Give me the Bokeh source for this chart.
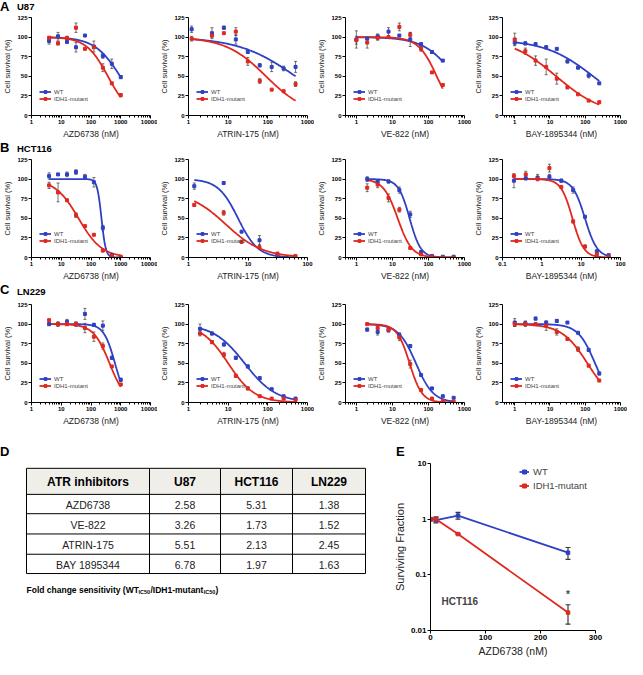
import numpy as np
from bokeh.plotting import figure
from bokeh.models import (Range1d, FixedTicker, PrintfTickFormatter, Whisker, Div,
                          ColumnDataSource, Legend, LegendItem, Label, TeeHead)
from bokeh.layouts import row, column
from bokeh.embed import file_html
from bokeh.resources import INLINE
from bokeh.core.properties import value

FONT = "Liberation Sans"
BLUE = "#2e40c4"
RED = "#e0281f"
ERR = "#3a3a3a"
TOTAL_W = 627

# ---------------- data ----------------
# fit = [top, IC50 (nM), Hill slope]   (4-parameter dose-response fits, bottom = 0)
azd_dose = [3.9, 7.8, 15.6, 31.25, 62.5, 125, 250, 500, 1000]

u87_azd_wt = [95, 101, 94, 87, 102, 88, 76, 66, 49]
u87_azd_wt_err = [4, 5, 2, 6, 0, 7, 3, 6, 2]
u87_azd_mut = [99, 92, 99, 112, 85, 87, 61, 41, 26]
u87_azd_mut_err = [2, 2, 2, 6, 0, 0, 5, 0, 2]
u87_azd_wt_fit = [100, 960, 1.0]
u87_azd_mut_fit = [100, 370, 1.2]

u87_atrin_dose = [1.2, 3.9, 7.8, 15.6, 31.25, 62.5, 125, 250, 500]
u87_atrin_wt = [110, 105, 112, 97, 81, 64, 62, 60, 62]
u87_atrin_wt_err = [4, 7, 2, 6, 0, 2, 6, 3, 7]
u87_atrin_mut = [98, 102, 105, 107, 69, 44, 33, 31, 40]
u87_atrin_mut_err = [3, 2, 0, 5, 5, 3, 0, 0, 3]
u87_atrin_wt_fit = [100, 500, 0.6]
u87_atrin_mut_fit = [100, 90, 0.85]

u87_ve_dose = [1, 2, 3.9, 7.8, 15.6, 31.25, 62.5, 125, 250]
u87_ve_wt = [97, 98, 101, 107, 102, 97, 91, 81, 70]
u87_ve_wt_err = [11, 0, 3, 5, 0, 9, 2, 2, 0]
u87_ve_mut = [96, 93, 99, 100, 113, 103, 85, 55, 39]
u87_ve_mut_err = [5, 7, 3, 0, 5, 3, 3, 0, 0]
u87_ve_wt_fit = [100, 550, 1.0]
u87_ve_mut_fit = [100, 170, 1.7]

bay_dose = [1, 2, 3.9, 7.8, 15.6, 31.25, 62.5, 125, 250]
u87_bay_wt = [93, 92, 91, 87, 85, 69, 61, 51, 41]
u87_bay_wt_err = [3, 2, 2, 2, 0, 2, 1, 3, 1]
u87_bay_mut = [97, 82, 70, 62, 47, 36, 27, 19, 17]
u87_bay_mut_err = [8, 4, 6, 10, 7, 2, 0, 0, 0]
u87_bay_wt_fit = [97, 185, 0.62]
u87_bay_mut_fit = [100, 15, 0.65]

hct_azd_wt = [104, 106, 106, 109, 103, 96, 38, 3, 0]
hct_azd_wt_err = [4, 0, 3, 3, 3, 6, 3, 0, 0]
hct_azd_mut = [92, 83, 73, 54, 40, 29, 9, 2, 1]
hct_azd_mut_err = [4, 12, 1, 3, 0, 0, 2, 0, 0]
hct_azd_wt_fit = [100, 225, 6.0]
hct_azd_mut_fit = [100, 38, 1.1]

hct_atrin_dose = [1.25, 3.9, 7.8, 15.6, 31.25, 62.5]
hct_atrin_wt = [91, 95, 33, 22, 3, 1]
hct_atrin_wt_err = [4, 0, 0, 6, 0, 0]
hct_atrin_mut = [67, 57, 20, 13, 5, 2]
hct_atrin_mut_err = [2, 3, 2, 3, 0, 0]
hct_atrin_wt_fit = [100, 6.8, 2.6]
hct_atrin_mut_fit = [85, 4.2, 1.4]

ve_dose = [2, 3.9, 7.8, 15.6, 31.25, 62.5, 125, 250, 500]
hct_ve_wt = [100, 97, 97, 86, 55, 7, 2, 1, 1]
hct_ve_wt_err = [3, 0, 2, 4, 4, 0, 0, 0, 0]
hct_ve_mut = [89, 93, 76, 61, 12, 4, 1, 0, 0]
hct_ve_mut_err = [5, 4, 5, 3, 0, 0, 0, 0, 0]
hct_ve_wt_fit = [100, 30, 2.8]
hct_ve_mut_fit = [100, 14, 2.2]

hct_bay_dose = [0.195, 0.39, 0.78, 1.56, 3.125, 6.25, 12.5, 25, 50]
hct_bay_wt = [98, 101, 102, 103, 98, 86, 52, 8, 3]
hct_bay_wt_err = [9, 2, 4, 3, 2, 4, 0, 0, 0]
hct_bay_mut = [104, 106, 100, 114, 90, 46, 14, 4, 1]
hct_bay_mut_err = [0, 4, 0, 5, 0, 2, 2, 0, 0]
hct_bay_wt_fit = [100, 12.5, 2.8]
hct_bay_mut_fit = [100, 6.0, 3.0]

ln_azd_wt = [100, 100, 103, 100, 113, 99, 98, 57, 29]
ln_azd_wt_err = [2, 3, 3, 2, 7, 2, 6, 2, 2]
ln_azd_mut = [105, 100, 100, 100, 95, 84, 72, 46, 23]
ln_azd_mut_err = [0, 2, 2, 3, 6, 6, 4, 0, 0]
ln_azd_wt_fit = [100, 640, 2.3]
ln_azd_mut_fit = [100, 420, 1.6]

ln_atrin_dose = [1.95, 3.9, 7.8, 15.6, 31.25, 62.5, 125, 250, 500]
ln_atrin_wt = [94, 88, 74, 57, 46, 31, 17, 8, 5]
ln_atrin_wt_err = [6, 2, 2, 2, 2, 2, 0, 0, 0]
ln_atrin_mut = [88, 77, 61, 34, 18, 8, 5, 5, 3]
ln_atrin_mut_err = [3, 2, 3, 2, 2, 0, 0, 0, 0]
ln_atrin_wt_fit = [100, 26, 1.1]
ln_atrin_mut_fit = [100, 10, 1.3]

ln_ve_wt = [93, 90, 92, 86, 72, 35, 18, 8, 6]
ln_ve_wt_err = [2, 4, 0, 3, 2, 0, 0, 0, 0]
ln_ve_mut = [100, 95, 93, 83, 49, 16, 5, 2, 1]
ln_ve_mut_err = [0, 0, 3, 4, 5, 0, 0, 0, 0]
ln_ve_wt_fit = [100, 45, 1.8]
ln_ve_mut_fit = [100, 30, 2.5]

ln_bay_wt = [102, 101, 107, 102, 104, 102, 89, 67, 37]
ln_bay_wt_err = [5, 3, 2, 0, 2, 0, 0, 2, 2]
ln_bay_mut = [100, 100, 100, 98, 90, 81, 68, 47, 28]
ln_bay_mut_err = [3, 3, 2, 6, 4, 0, 3, 0, 0]
ln_bay_wt_fit = [100, 190, 1.8]
ln_bay_mut_fit = [100, 115, 1.2]

# panel D table
table_header = ["ATR inhibitors", "U87", "HCT116", "LN229"]
table_drugs = ["AZD6738", "VE-822", "ATRIN-175", "BAY 1895344"]
table_u87 = ["2.58", "3.26", "5.51", "6.78"]
table_hct116 = ["5.31", "1.73", "2.13", "1.97"]
table_ln229 = ["1.38", "1.52", "2.45", "1.63"]

# panel E clonogenic survival
clono_dose = [0, 10, 50, 250]
clono_wt = [1.0, 0.96, 1.16, 0.25]
clono_wt_err = [0.07, 0.1, 0.16, 0.06]
clono_mut = [1.0, 1.0, 0.54, 0.021]
clono_mut_err = [0.05, 0.1, 0.01, 0.008]

series_labels = ["WT", "IDH1-mutant"]
y_ticks = [0, 25, 50, 75, 100, 125]


# ---------------- helpers ----------------
def log_ticks(lo, hi):
    majors = [10.0 ** k for k in range(-3, 6) if lo * 0.999 <= 10.0 ** k <= hi * 1.001]
    minors = [m * 10.0 ** k for k in range(-3, 6) for m in range(2, 10)
              if lo <= m * 10.0 ** k <= hi]
    return majors, minors


def fit_curve(fit, lo, hi):
    top, ic50, hill = fit
    xs = np.logspace(np.log10(lo), np.log10(hi), 150)
    ys = top / (1.0 + (xs / ic50) ** hill)
    return xs, ys


def add_err(p, x, m, e, size=3, width=0.7):
    keep = [i for i, s in enumerate(e) if s > 0]
    src = ColumnDataSource(dict(x=[x[i] for i in keep],
                                lo=[m[i] - e[i] for i in keep],
                                hi=[m[i] + e[i] for i in keep]))
    w = Whisker(source=src, base="x", lower="lo", upper="hi", dimension="height",
                line_color=ERR, line_width=width,
                upper_head=TeeHead(size=size, line_color=ERR, line_width=width),
                lower_head=TeeHead(size=size, line_color=ERR, line_width=width))
    p.add_layout(w)


def style_axis(ax, tick_fs, label_fs):
    ax.axis_line_color = "black"
    ax.axis_line_width = 1
    ax.major_tick_line_color = "black"
    ax.minor_tick_line_color = "black"
    ax.major_tick_in = 0
    ax.major_tick_out = 3
    ax.minor_tick_in = 0
    ax.minor_tick_out = 2
    ax.major_label_text_font = FONT
    ax.major_label_text_font_size = tick_fs
    ax.major_label_text_font_style = "bold"
    ax.major_label_text_color = "black"
    ax.major_label_standoff = 1
    ax.axis_label_text_font = FONT
    ax.axis_label_text_font_size = label_fs
    ax.axis_label_text_font_style = "normal"
    ax.axis_label_text_color = "#222222"
    ax.axis_label_standoff = 2


def header(h, items):
    spans = "".join(
        f'<span style="position:absolute;left:{x}px;top:{t}px;white-space:nowrap;'
        f'font-family:\'{FONT}\';font-weight:bold;font-size:{fs}px;line-height:{fs}px;'
        f'color:black">{txt}</span>'
        for x, t, txt, fs in items)
    html = (f'<div style="position:relative;width:{TOTAL_W}px;height:{h}px;'
            f'overflow:visible">{spans}</div>')
    return Div(text=html, width=TOTAL_W, height=h, margin=0)


L_B, R_B, T_B, B_B = 25, 7, 4, 24


def dose_panel(w, h, dose, wt, wt_err, mut, mut_err, wt_fit, mut_fit, xr, xlabel):
    p = figure(width=w, height=h, x_axis_type="log", x_range=Range1d(*xr),
               y_range=Range1d(0, 125), output_backend="svg", toolbar_location=None,
               title=None, min_border_left=L_B, min_border_right=R_B, min_border_top=T_B,
               min_border_bottom=B_B)
    p.outline_line_color = None
    p.xgrid.visible = False
    p.ygrid.visible = False
    majors, minors = log_ticks(*xr)
    p.xaxis.ticker = FixedTicker(ticks=majors, minor_ticks=minors)
    p.xaxis.formatter = PrintfTickFormatter(format="%g")
    p.yaxis.ticker = FixedTicker(ticks=y_ticks)
    style_axis(p.xaxis[0], "6px", "8.5px")
    style_axis(p.yaxis[0], "6px", "7.5px")
    p.yaxis.minor_tick_line_color = None
    p.xaxis.axis_label = xlabel
    p.yaxis.axis_label = "Cell survival (%)"

    add_err(p, dose, wt, wt_err)
    add_err(p, dose, mut, mut_err)
    lo, hi = min(dose), max(dose)
    xs, ys = fit_curve(wt_fit, lo, hi)
    l_wt = p.line(xs, ys, line_color=BLUE, line_width=1.8)
    xs, ys = fit_curve(mut_fit, lo, hi)
    l_mut = p.line(xs, ys, line_color=RED, line_width=1.8)
    s_wt = p.scatter(dose, wt, marker="square", size=3, color=BLUE)
    s_mut = p.scatter(dose, mut, marker="square", size=3, color=RED)

    leg = Legend(items=[LegendItem(label=series_labels[0], renderers=[l_wt, s_wt]),
                        LegendItem(label=series_labels[1], renderers=[l_mut, s_mut])],
                 location=(8, 13), orientation="vertical",
                 label_text_font=FONT, label_text_font_size="6px",
                 label_height=7, glyph_height=7, glyph_width=12, spacing=0,
                 padding=0, margin=0, label_standoff=3,
                 background_fill_alpha=0, border_line_color=None)
    p.add_layout(leg)
    return p


W = [157, 157, 157, 156]
PH = 128
X_AZD, X_ATR, X_VE, X_BAY = (1, 10000), (1, 1000), (0.5, 1000), (0.45, 1000)

hdrA = header(13, [(0, 0, "A", 13), (17, 2, "U87", 9.5)])
rowA = row(
    dose_panel(W[0], PH, azd_dose, u87_azd_wt, u87_azd_wt_err, u87_azd_mut, u87_azd_mut_err,
               u87_azd_wt_fit, u87_azd_mut_fit, X_AZD, "AZD6738 (nM)"),
    dose_panel(W[1], PH, u87_atrin_dose, u87_atrin_wt, u87_atrin_wt_err, u87_atrin_mut,
               u87_atrin_mut_err, u87_atrin_wt_fit, u87_atrin_mut_fit, X_ATR, "ATRIN-175 (nM)"),
    dose_panel(W[2], PH, u87_ve_dose, u87_ve_wt, u87_ve_wt_err, u87_ve_mut, u87_ve_mut_err,
               u87_ve_wt_fit, u87_ve_mut_fit, X_VE, "VE-822 (nM)"),
    dose_panel(W[3], PH, bay_dose, u87_bay_wt, u87_bay_wt_err, u87_bay_mut, u87_bay_mut_err,
               u87_bay_wt_fit, u87_bay_mut_fit, X_BAY, "BAY-1895344 (nM)"),
)

hdrB = header(14, [(0, 0, "B", 13), (17, 3, "HCT116", 9.5)])
rowB = row(
    dose_panel(W[0], PH, azd_dose, hct_azd_wt, hct_azd_wt_err, hct_azd_mut, hct_azd_mut_err,
               hct_azd_wt_fit, hct_azd_mut_fit, X_AZD, "AZD6738 (nM)"),
    dose_panel(W[1], PH, hct_atrin_dose, hct_atrin_wt, hct_atrin_wt_err, hct_atrin_mut,
               hct_atrin_mut_err, hct_atrin_wt_fit, hct_atrin_mut_fit, (1, 100), "ATRIN-175 (nM)"),
    dose_panel(W[2], PH, ve_dose, hct_ve_wt, hct_ve_wt_err, hct_ve_mut, hct_ve_mut_err,
               hct_ve_wt_fit, hct_ve_mut_fit, X_VE, "VE-822 (nM)"),
    dose_panel(W[3], PH, hct_bay_dose, hct_bay_wt, hct_bay_wt_err, hct_bay_mut,
               hct_bay_mut_err, hct_bay_wt_fit, hct_bay_mut_fit, (0.1, 100), "BAY-1895344 (nM)"),
)

hdrC = header(17, [(0, 0, "C", 13), (17, 3.5, "LN229", 9.5)])
rowC = row(
    dose_panel(W[0], PH, azd_dose, ln_azd_wt, ln_azd_wt_err, ln_azd_mut, ln_azd_mut_err,
               ln_azd_wt_fit, ln_azd_mut_fit, X_AZD, "AZD6738 (nM)"),
    dose_panel(W[1], PH, ln_atrin_dose, ln_atrin_wt, ln_atrin_wt_err, ln_atrin_mut,
               ln_atrin_mut_err, ln_atrin_wt_fit, ln_atrin_mut_fit, X_ATR, "ATRIN-175 (nM)"),
    dose_panel(W[2], PH, ve_dose, ln_ve_wt, ln_ve_wt_err, ln_ve_mut, ln_ve_mut_err,
               ln_ve_wt_fit, ln_ve_mut_fit, X_VE, "VE-822 (nM)"),
    dose_panel(W[3], PH, bay_dose, ln_bay_wt, ln_bay_wt_err, ln_bay_mut, ln_bay_mut_err,
               ln_bay_wt_fit, ln_bay_mut_fit, X_BAY, "BAY-1895344 (nM)"),
)

hdrDE = header(31, [(0, 17, "D", 13), (396, 17, "E", 13)])

# ---------------- panel E (borders shared with D) ----------------
EW, EH, ET, EB, EL, ER = 237, 200, 4, 23, 30, 32

# ---------------- panel D: table ----------------
DW, DH = 390, 200
d = figure(width=DW, height=DH, x_range=Range1d(0, DW), y_range=Range1d(DH - EB, ET),
           x_axis_type=None, y_axis_type=None, title=None, min_border_left=0,
           min_border_right=0, min_border_top=ET, min_border_bottom=EB,
           output_backend="svg", toolbar_location=None)
d.outline_line_color = None
col_x = [26, 149, 220, 292, 365]
row_y = [9, 36, 56, 77, 98, 118]
d.quad(left=[col_x[0]], right=[col_x[-1]], top=[row_y[0]], bottom=[row_y[1]],
       fill_color="#efeee8", line_color=None)
d.segment(x0=[col_x[0]] * len(row_y), x1=[col_x[-1]] * len(row_y), y0=row_y, y1=row_y,
          line_color="black", line_width=1)
d.segment(x0=col_x, x1=col_x, y0=[row_y[0]] * len(col_x), y1=[row_y[-1]] * len(col_x),
          line_color="black", line_width=1)
cx = [(col_x[i] + col_x[i + 1]) / 2 for i in range(4)]
cy = [(row_y[i] + row_y[i + 1]) / 2 for i in range(5)]
d.text(x=cx, y=[cy[0] + 1] * 4, text=table_header, text_font=value(FONT),
       text_font_size="12px", text_font_style="bold", text_align="center",
       text_baseline="middle", text_color="black")
body_cols = [table_drugs, table_u87, table_hct116, table_ln229]
bx, by, bt = [], [], []
for j, colvals in enumerate(body_cols):
    for i, t in enumerate(colvals):
        bx.append(cx[j]); by.append(cy[i + 1] + 1); bt.append(t)
d.text(x=bx, y=by, text=bt, text_font=value(FONT), text_font_size="10.5px",
       text_align="center", text_baseline="middle", text_color="#222222")
# caption with subscripts
cap_y = 135
d.text(x=[26, 150, 215], y=[cap_y] * 3,
       text=["Fold change sensitivity (WT", "/IDH1-mutant", " )"],
       text_font=value(FONT), text_font_size="8.5px", text_font_style="bold",
       text_baseline="alphabetic", text_color="black")
d.text(x=[138, 203.3], y=[cap_y + 2] * 2, text=["IC50", "IC50"], text_font=value(FONT),
       text_font_size="5.5px", text_font_style="bold", text_baseline="alphabetic",
       text_color="black")

e = figure(width=EW, height=EH, y_axis_type="log", x_range=Range1d(0, 300),
           y_range=Range1d(0.01, 10), output_backend="svg", toolbar_location=None,
           title=None, min_border_left=EL, min_border_right=ER, min_border_top=ET,
           min_border_bottom=EB)
e.outline_line_color = None
e.xgrid.visible = False
e.ygrid.visible = False
e.xaxis.ticker = FixedTicker(ticks=[0, 100, 200, 300])
e.yaxis.ticker = FixedTicker(ticks=[0.01, 0.1, 1, 10])
e.yaxis.formatter = PrintfTickFormatter(format="%g")
style_axis(e.xaxis[0], "8px", "10.5px")
style_axis(e.yaxis[0], "8px", "11px")
e.xaxis.minor_tick_line_color = None
e.yaxis.minor_tick_line_color = None
e.xaxis.axis_label = "AZD6738 (nM)"
e.yaxis.axis_label = "Surviving Fraction"
add_err(e, clono_dose, clono_wt, clono_wt_err, size=5, width=1.2)
add_err(e, clono_dose, clono_mut, clono_mut_err, size=5, width=1.2)
el_wt = e.line(clono_dose, clono_wt, line_color=BLUE, line_width=1.8)
el_mut = e.line(clono_dose, clono_mut, line_color=RED, line_width=1.8)
es_wt = e.scatter(clono_dose, clono_wt, marker="square", size=3.5, color=BLUE)
es_mut = e.scatter(clono_dose, clono_mut, marker="square", size=3.5, color=RED)
efh = EH - ET - EB
eleg = Legend(items=[LegendItem(label=series_labels[0], renderers=[el_wt, es_wt]),
                     LegendItem(label=series_labels[1], renderers=[el_mut, es_mut])],
              location=(89, efh - 35), label_text_font=FONT, label_text_font_size="9.5px",
              label_height=13, glyph_height=13, glyph_width=10, spacing=1, padding=0,
              margin=0, label_standoff=4, background_fill_alpha=0, border_line_color=None)
e.add_layout(eleg)
e.add_layout(Label(x=11, y=29, x_units="screen", y_units="screen", text="HCT116",
                   text_font=FONT, text_font_size="10px", text_font_style="bold",
                   text_baseline="middle"))
e.add_layout(Label(x=clono_dose[-1], y=clono_mut[-1] + clono_mut_err[-1], y_offset=5,
                   text="*", text_font=FONT, text_font_size="10px", text_font_style="bold",
                   text_align="center", text_baseline="bottom"))

layout = column(hdrA, rowA, hdrB, rowB, hdrC, rowC, hdrDE, row(d, e))
open("out.html", "w").write(file_html(layout, INLINE))
